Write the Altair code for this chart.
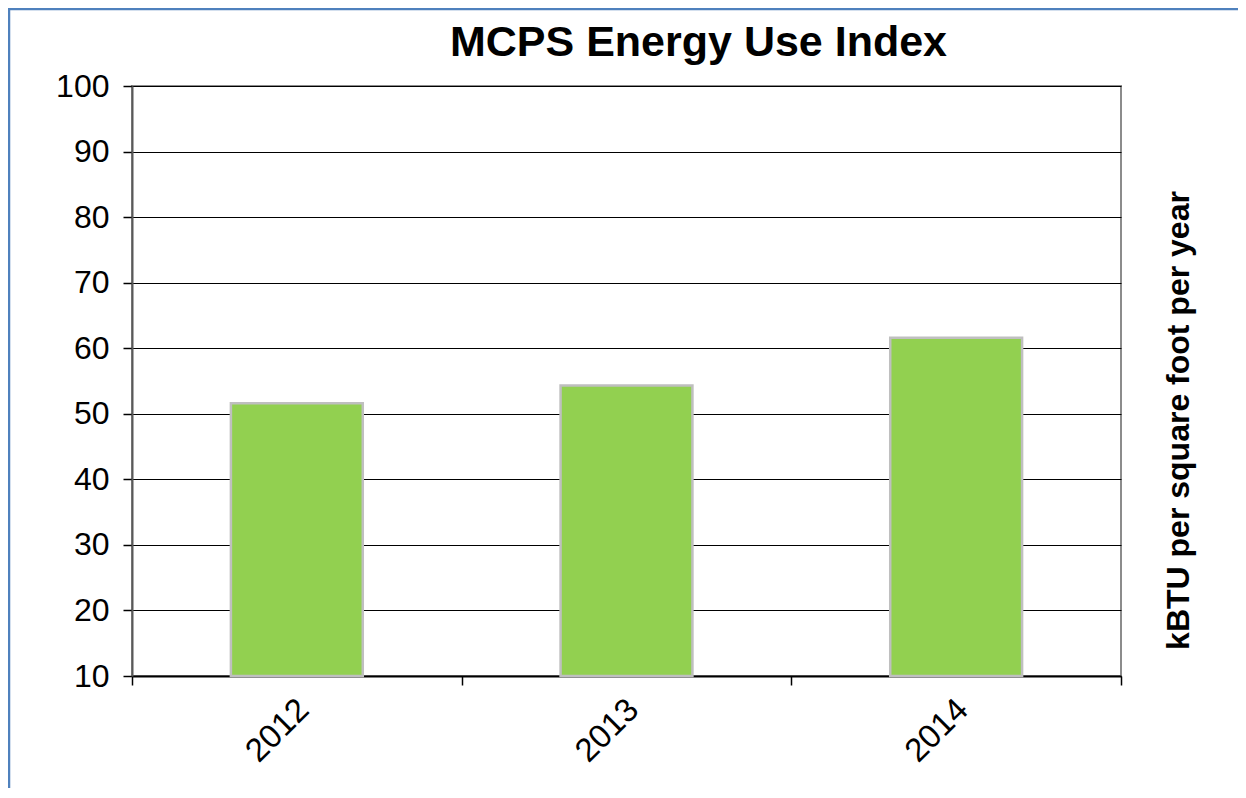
import json
import altair as alt
import pandas as pd

# ---- data ----
years = ["2012", "2013", "2014"]
values = [51.6, 54.3, 61.6]
y_ticks = [10, 20, 30, 40, 50, 60, 70, 80, 90, 100]

df = pd.DataFrame({"year": years, "value": values, "idx": list(range(len(years)))})

W, H = 989, 590
PAD_L, PAD_T, PAD_R, PAD_B = 124, 78, 117, 112
FONT = "Liberation Sans"

n = len(years)
x_vals = [float(i) for i in range(n + 1)] + [i + 0.5 for i in range(n)]
label_expr = f"(datum.value % 1) == 0.5 ? {json.dumps(years)}[floor(datum.value)] : ''"

x_scale = alt.Scale(domain=[0, n], nice=False, zero=False)
y_scale = alt.Scale(domain=[10, 100], nice=False, zero=False)

bars = (
    alt.Chart(df)
    .transform_calculate(x0="datum.idx + 0.3", x1="datum.idx + 0.7")
    .mark_bar(fill="#92D050", stroke="#BFBFBF", strokeWidth=2.5)
    .encode(
        x=alt.X(
            "x0:Q",
            scale=x_scale,
            axis=alt.Axis(
                values=x_vals,
                labelExpr=label_expr,
                grid=False,
                tickSize=9,
                tickColor="black",
                tickWidth=1.5,
                tickOpacity={"condition": {"test": "datum.value % 1 == 0", "value": 1}, "value": 0},
                domainColor="black",
                domainWidth=2,
                labelAngle=-45,
                labelFontSize=33,
                labelColor="black",
                labelFont=FONT,
                labelPadding=8,
                labelOffset=-5,
                labelOverlap=False,
                labelFlush=False,
                title=None,
            ),
        ),
        x2="x1:Q",
        y=alt.Y(
            "value:Q",
            scale=y_scale,
            axis=alt.Axis(
                values=y_ticks,
                grid=True,
                gridColor="black",
                gridWidth=1,
                tickSize=9,
                tickColor="black",
                tickWidth=1.5,
                domainColor="#595959",
                domainWidth=2,
                labelFontSize=32,
                labelColor="black",
                labelFont=FONT,
                labelPadding=14,
                title=None,
            ),
        ),
        y2=alt.datum(10),
    )
)

right_title = (
    alt.Chart(df)
    .mark_point(opacity=0)
    .encode(
        y=alt.Y(
            "value:Q",
            scale=y_scale,
            axis=alt.Axis(
                orient="right",
                labels=False,
                ticks=False,
                domain=False,
                grid=False,
                title="kBTU per square foot per year",
                titleFont=FONT,
                titleFontSize=32,
                titleFontWeight="bold",
                titleColor="black",
                titleAngle=270,
                titleAlign="center",
                titleBaseline="middle",
                titleX=57,
                titleY=334,
            ),
        )
    )
)

border = (
    alt.Chart(alt.Data(values=[{}]))
    .mark_rect(fillOpacity=0, stroke="#4F81BD", strokeWidth=2.5)
    .encode(
        x=alt.value(-PAD_L + 1),
        x2=alt.value(W + PAD_R + 30),
        y=alt.value(-PAD_T + 1),
        y2=alt.value(H + PAD_B + 30),
    )
)

chart = (
    alt.layer(border, bars, right_title)
    .resolve_axis(y="independent")
    .properties(
        width=W,
        height=H,
        padding={"left": PAD_L, "top": PAD_T, "right": PAD_R, "bottom": PAD_B},
        autosize=alt.AutoSizeParams(type="none"),
        title=alt.TitleParams(
            "MCPS Energy Use Index",
            font=FONT,
            fontSize=43,
            fontWeight="bold",
            color="black",
            anchor="middle",
            frame="group",
            dx=72,
            baseline="alphabetic",
            offset=0,
            dy=91,
        ),
    )
    .configure(font=FONT, background="white")
    .configure_view(stroke="#8C8C8C", strokeWidth=2)
)

chart.save("out.html", embed_options={"renderer": "svg", "actions": False})
